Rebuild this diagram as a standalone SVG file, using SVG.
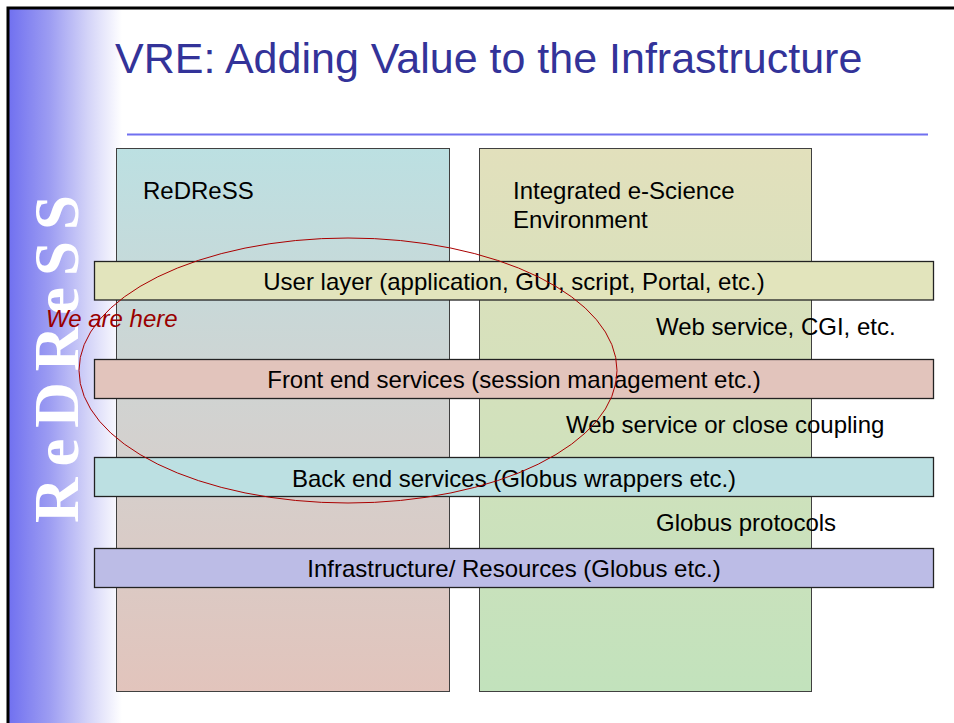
<svg xmlns="http://www.w3.org/2000/svg" width="954" height="723" viewBox="0 0 954 723">
<defs>
<linearGradient id="side" x1="10" y1="0" x2="122" y2="0" gradientUnits="userSpaceOnUse">
<stop offset="0" stop-color="#7272f0"/>
<stop offset="0.35" stop-color="#9c9cf2"/>
<stop offset="0.7" stop-color="#d4d4f8"/>
<stop offset="1" stop-color="#ffffff"/>
</linearGradient>
<linearGradient id="colL" x1="0" y1="0" x2="0" y2="1">
<stop offset="0" stop-color="#bce0e2"/>
<stop offset="0.5" stop-color="#d2d2d0"/>
<stop offset="1" stop-color="#e2c4bc"/>
</linearGradient>
<linearGradient id="colR" x1="0" y1="0" x2="0" y2="1">
<stop offset="0" stop-color="#e2e0bc"/>
<stop offset="1" stop-color="#c2e2bc"/>
</linearGradient>
<style>
.t{font-family:"Liberation Sans",Arial,sans-serif;font-size:24px;fill:#000}
.c{text-anchor:middle}
.col{stroke:#404040;stroke-width:1}
.bar{stroke:#222;stroke-width:1.3}
</style>
</defs>
<rect x="0" y="0" width="954" height="723" fill="#fff"/>
<rect x="9" y="9" width="113" height="714" fill="url(#side)"/>
<rect x="8" y="8" width="960" height="730" fill="none" stroke="#000" stroke-width="3"/>
<text x="115" y="73" font-family="Liberation Sans,Arial,sans-serif" font-size="43" fill="#333399">VRE: Adding Value to the Infrastructure</text>
<line x1="127" y1="134.5" x2="928" y2="134.5" stroke="#7070f0" stroke-width="2"/>
<text transform="translate(78,523) rotate(-90)" font-family="Liberation Serif,Times New Roman,serif" font-weight="bold" font-size="63" fill="#fff" textLength="328" lengthAdjust="spacing">R e D R e S S</text>
<g id="col-redress">
<rect class="col" x="116.5" y="148.5" width="333" height="543" fill="url(#colL)"/>
<text class="t" x="143" y="199">ReDReSS</text>
</g>
<g id="col-ise">
<rect class="col" x="479.5" y="148.5" width="332" height="543" fill="url(#colR)"/>
<text class="t" x="513" y="199">Integrated e-Science</text>
<text class="t" x="513" y="228">Environment</text>
</g>
<g id="bar-user">
<rect class="bar" x="94.5" y="261.5" width="839" height="38.5" fill="#e2e4bc"/>
<text class="t c" x="514" y="290">User layer (application, GUI, script, Portal, etc.)</text>
</g>
<g id="bar-front">
<rect class="bar" x="94.5" y="359.5" width="839" height="39" fill="#e2c4bc"/>
<text class="t c" x="514" y="388">Front end services (session management etc.)</text>
</g>
<g id="bar-back">
<rect class="bar" x="94.5" y="457.5" width="839" height="39" fill="#bce0e2"/>
<text class="t c" x="514" y="487">Back end services (Globus wrappers etc.)</text>
</g>
<g id="bar-infra">
<rect class="bar" x="94.5" y="548.5" width="839" height="39" fill="#bcbce6"/>
<text class="t c" x="514" y="577">Infrastructure/ Resources (Globus etc.)</text>
</g>
<g id="labels">
<text class="t" x="656" y="335">Web service, CGI, etc.</text>
<text class="t" x="566" y="433">Web service or close coupling</text>
<text class="t" x="656" y="531">Globus protocols</text>
</g>
<g id="we-are-here">
<text x="46" y="327" font-family="Liberation Sans,Arial,sans-serif" font-size="24" font-style="italic" fill="#990000">We are here</text>
<ellipse cx="348" cy="370.5" rx="269" ry="132.5" fill="none" stroke="#aa0000" stroke-width="1"/>
</g>
</svg>
